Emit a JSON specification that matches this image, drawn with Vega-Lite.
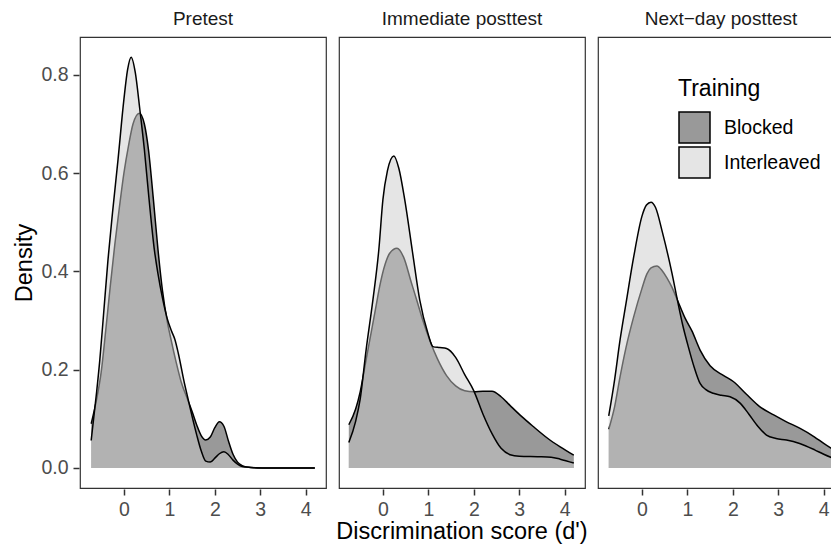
{
  "$schema": "https://vega.github.io/schema/vega-lite/v6.json",
  "padding": {"left": 12, "top": 10, "right": 0, "bottom": 0},
  "config": {
    "font": "Liberation Sans",
    "view": {"stroke": "#333333", "strokeWidth": 1.2},
    "axis": {"grid": false, "domain": false, "tickColor": "#333333", "tickWidth": 1.5, "tickSize": 6, "labelColor": "#4d4d4d", "labelFontSize": 19.5, "labelPadding": 5, "titleFontSize": 23.5, "titleFontWeight": "normal", "titleColor": "black"},
    "legend": {"titleFontSize": 23, "titleFontWeight": "normal", "titleColor": "black", "labelFontSize": 19.5, "labelColor": "black", "symbolType": "square", "symbolSize": 961, "labelOffset": 13, "rowPadding": -6, "titlePadding": 10}
  },
  "data": {"values": [
    {"test":"Pretest","training":"Blocked","score":-0.72,"density":0.090},
    {"test":"Pretest","training":"Blocked","score":-0.6,"density":0.140},
    {"test":"Pretest","training":"Blocked","score":-0.5,"density":0.195},
    {"test":"Pretest","training":"Blocked","score":-0.4,"density":0.280},
    {"test":"Pretest","training":"Blocked","score":-0.3,"density":0.370},
    {"test":"Pretest","training":"Blocked","score":-0.2,"density":0.455},
    {"test":"Pretest","training":"Blocked","score":-0.1,"density":0.530},
    {"test":"Pretest","training":"Blocked","score":0.0,"density":0.600},
    {"test":"Pretest","training":"Blocked","score":0.1,"density":0.655},
    {"test":"Pretest","training":"Blocked","score":0.2,"density":0.700},
    {"test":"Pretest","training":"Blocked","score":0.34,"density":0.722},
    {"test":"Pretest","training":"Blocked","score":0.45,"density":0.700},
    {"test":"Pretest","training":"Blocked","score":0.54,"density":0.648},
    {"test":"Pretest","training":"Blocked","score":0.65,"density":0.545},
    {"test":"Pretest","training":"Blocked","score":0.75,"density":0.444},
    {"test":"Pretest","training":"Blocked","score":0.85,"density":0.360},
    {"test":"Pretest","training":"Blocked","score":0.95,"density":0.300},
    {"test":"Pretest","training":"Blocked","score":1.04,"density":0.260},
    {"test":"Pretest","training":"Blocked","score":1.15,"density":0.215},
    {"test":"Pretest","training":"Blocked","score":1.26,"density":0.175},
    {"test":"Pretest","training":"Blocked","score":1.4,"density":0.140},
    {"test":"Pretest","training":"Blocked","score":1.5,"density":0.115},
    {"test":"Pretest","training":"Blocked","score":1.6,"density":0.088},
    {"test":"Pretest","training":"Blocked","score":1.7,"density":0.066},
    {"test":"Pretest","training":"Blocked","score":1.8,"density":0.057},
    {"test":"Pretest","training":"Blocked","score":1.9,"density":0.063},
    {"test":"Pretest","training":"Blocked","score":2.0,"density":0.082},
    {"test":"Pretest","training":"Blocked","score":2.1,"density":0.094},
    {"test":"Pretest","training":"Blocked","score":2.2,"density":0.085},
    {"test":"Pretest","training":"Blocked","score":2.3,"density":0.055},
    {"test":"Pretest","training":"Blocked","score":2.4,"density":0.028},
    {"test":"Pretest","training":"Blocked","score":2.5,"density":0.012},
    {"test":"Pretest","training":"Blocked","score":2.6,"density":0.005},
    {"test":"Pretest","training":"Blocked","score":2.7,"density":0.002},
    {"test":"Pretest","training":"Blocked","score":2.9,"density":0.0005},
    {"test":"Pretest","training":"Blocked","score":3.2,"density":0.0},
    {"test":"Pretest","training":"Blocked","score":3.7,"density":0.0},
    {"test":"Pretest","training":"Blocked","score":4.2,"density":0.0},
    {"test":"Pretest","training":"Interleaved","score":-0.72,"density":0.056},
    {"test":"Pretest","training":"Interleaved","score":-0.6,"density":0.155},
    {"test":"Pretest","training":"Interleaved","score":-0.53,"density":0.220},
    {"test":"Pretest","training":"Interleaved","score":-0.45,"density":0.310},
    {"test":"Pretest","training":"Interleaved","score":-0.35,"density":0.424},
    {"test":"Pretest","training":"Interleaved","score":-0.25,"density":0.520},
    {"test":"Pretest","training":"Interleaved","score":-0.13,"density":0.627},
    {"test":"Pretest","training":"Interleaved","score":0.0,"density":0.750},
    {"test":"Pretest","training":"Interleaved","score":0.08,"density":0.810},
    {"test":"Pretest","training":"Interleaved","score":0.16,"density":0.836},
    {"test":"Pretest","training":"Interleaved","score":0.25,"density":0.805},
    {"test":"Pretest","training":"Interleaved","score":0.35,"density":0.730},
    {"test":"Pretest","training":"Interleaved","score":0.45,"density":0.648},
    {"test":"Pretest","training":"Interleaved","score":0.55,"density":0.550},
    {"test":"Pretest","training":"Interleaved","score":0.67,"density":0.444},
    {"test":"Pretest","training":"Interleaved","score":0.75,"density":0.395},
    {"test":"Pretest","training":"Interleaved","score":0.85,"density":0.345},
    {"test":"Pretest","training":"Interleaved","score":0.95,"density":0.305},
    {"test":"Pretest","training":"Interleaved","score":1.05,"density":0.278},
    {"test":"Pretest","training":"Interleaved","score":1.12,"density":0.262},
    {"test":"Pretest","training":"Interleaved","score":1.2,"density":0.232},
    {"test":"Pretest","training":"Interleaved","score":1.33,"density":0.173},
    {"test":"Pretest","training":"Interleaved","score":1.4,"density":0.145},
    {"test":"Pretest","training":"Interleaved","score":1.5,"density":0.105},
    {"test":"Pretest","training":"Interleaved","score":1.6,"density":0.068},
    {"test":"Pretest","training":"Interleaved","score":1.7,"density":0.035},
    {"test":"Pretest","training":"Interleaved","score":1.8,"density":0.014},
    {"test":"Pretest","training":"Interleaved","score":1.9,"density":0.012},
    {"test":"Pretest","training":"Interleaved","score":2.0,"density":0.020},
    {"test":"Pretest","training":"Interleaved","score":2.1,"density":0.029},
    {"test":"Pretest","training":"Interleaved","score":2.2,"density":0.033},
    {"test":"Pretest","training":"Interleaved","score":2.3,"density":0.027},
    {"test":"Pretest","training":"Interleaved","score":2.4,"density":0.016},
    {"test":"Pretest","training":"Interleaved","score":2.5,"density":0.008},
    {"test":"Pretest","training":"Interleaved","score":2.6,"density":0.003},
    {"test":"Pretest","training":"Interleaved","score":2.8,"density":0.001},
    {"test":"Pretest","training":"Interleaved","score":3.0,"density":0.0},
    {"test":"Pretest","training":"Interleaved","score":3.6,"density":0.0},
    {"test":"Pretest","training":"Interleaved","score":4.2,"density":0.0},
    {"test":"Immediate posttest","training":"Blocked","score":-0.75,"density":0.088},
    {"test":"Immediate posttest","training":"Blocked","score":-0.6,"density":0.120},
    {"test":"Immediate posttest","training":"Blocked","score":-0.5,"density":0.155},
    {"test":"Immediate posttest","training":"Blocked","score":-0.37,"density":0.220},
    {"test":"Immediate posttest","training":"Blocked","score":-0.26,"density":0.275},
    {"test":"Immediate posttest","training":"Blocked","score":-0.15,"density":0.330},
    {"test":"Immediate posttest","training":"Blocked","score":-0.07,"density":0.370},
    {"test":"Immediate posttest","training":"Blocked","score":0.05,"density":0.415},
    {"test":"Immediate posttest","training":"Blocked","score":0.15,"density":0.437},
    {"test":"Immediate posttest","training":"Blocked","score":0.31,"density":0.447},
    {"test":"Immediate posttest","training":"Blocked","score":0.45,"density":0.430},
    {"test":"Immediate posttest","training":"Blocked","score":0.63,"density":0.376},
    {"test":"Immediate posttest","training":"Blocked","score":0.75,"density":0.340},
    {"test":"Immediate posttest","training":"Blocked","score":0.88,"density":0.300},
    {"test":"Immediate posttest","training":"Blocked","score":1.03,"density":0.260},
    {"test":"Immediate posttest","training":"Blocked","score":1.2,"density":0.222},
    {"test":"Immediate posttest","training":"Blocked","score":1.4,"density":0.188},
    {"test":"Immediate posttest","training":"Blocked","score":1.6,"density":0.167},
    {"test":"Immediate posttest","training":"Blocked","score":1.8,"density":0.157},
    {"test":"Immediate posttest","training":"Blocked","score":2.0,"density":0.155},
    {"test":"Immediate posttest","training":"Blocked","score":2.2,"density":0.156},
    {"test":"Immediate posttest","training":"Blocked","score":2.4,"density":0.156},
    {"test":"Immediate posttest","training":"Blocked","score":2.6,"density":0.145},
    {"test":"Immediate posttest","training":"Blocked","score":2.8,"density":0.127},
    {"test":"Immediate posttest","training":"Blocked","score":3.05,"density":0.105},
    {"test":"Immediate posttest","training":"Blocked","score":3.3,"density":0.085},
    {"test":"Immediate posttest","training":"Blocked","score":3.63,"density":0.060},
    {"test":"Immediate posttest","training":"Blocked","score":3.9,"density":0.043},
    {"test":"Immediate posttest","training":"Blocked","score":4.2,"density":0.026},
    {"test":"Immediate posttest","training":"Interleaved","score":-0.75,"density":0.052},
    {"test":"Immediate posttest","training":"Interleaved","score":-0.6,"density":0.095},
    {"test":"Immediate posttest","training":"Interleaved","score":-0.5,"density":0.140},
    {"test":"Immediate posttest","training":"Interleaved","score":-0.37,"density":0.240},
    {"test":"Immediate posttest","training":"Interleaved","score":-0.22,"density":0.342},
    {"test":"Immediate posttest","training":"Interleaved","score":-0.09,"density":0.444},
    {"test":"Immediate posttest","training":"Interleaved","score":0.0,"density":0.546},
    {"test":"Immediate posttest","training":"Interleaved","score":0.1,"density":0.605},
    {"test":"Immediate posttest","training":"Interleaved","score":0.24,"density":0.635},
    {"test":"Immediate posttest","training":"Interleaved","score":0.35,"density":0.610},
    {"test":"Immediate posttest","training":"Interleaved","score":0.48,"density":0.546},
    {"test":"Immediate posttest","training":"Interleaved","score":0.65,"density":0.440},
    {"test":"Immediate posttest","training":"Interleaved","score":0.81,"density":0.342},
    {"test":"Immediate posttest","training":"Interleaved","score":0.99,"density":0.274},
    {"test":"Immediate posttest","training":"Interleaved","score":1.1,"density":0.247},
    {"test":"Immediate posttest","training":"Interleaved","score":1.25,"density":0.245},
    {"test":"Immediate posttest","training":"Interleaved","score":1.4,"density":0.243},
    {"test":"Immediate posttest","training":"Interleaved","score":1.6,"density":0.225},
    {"test":"Immediate posttest","training":"Interleaved","score":1.8,"density":0.190},
    {"test":"Immediate posttest","training":"Interleaved","score":2.0,"density":0.157},
    {"test":"Immediate posttest","training":"Interleaved","score":2.2,"density":0.110},
    {"test":"Immediate posttest","training":"Interleaved","score":2.4,"density":0.070},
    {"test":"Immediate posttest","training":"Interleaved","score":2.6,"density":0.040},
    {"test":"Immediate posttest","training":"Interleaved","score":2.8,"density":0.027},
    {"test":"Immediate posttest","training":"Interleaved","score":3.0,"density":0.024},
    {"test":"Immediate posttest","training":"Interleaved","score":3.4,"density":0.023},
    {"test":"Immediate posttest","training":"Interleaved","score":3.7,"density":0.022},
    {"test":"Immediate posttest","training":"Interleaved","score":3.9,"density":0.018},
    {"test":"Immediate posttest","training":"Interleaved","score":4.2,"density":0.010},
    {"test":"Next−day posttest","training":"Blocked","score":-0.73,"density":0.079},
    {"test":"Next−day posttest","training":"Blocked","score":-0.6,"density":0.125},
    {"test":"Next−day posttest","training":"Blocked","score":-0.48,"density":0.186},
    {"test":"Next−day posttest","training":"Blocked","score":-0.35,"density":0.245},
    {"test":"Next−day posttest","training":"Blocked","score":-0.18,"density":0.308},
    {"test":"Next−day posttest","training":"Blocked","score":0.0,"density":0.365},
    {"test":"Next−day posttest","training":"Blocked","score":0.11,"density":0.395},
    {"test":"Next−day posttest","training":"Blocked","score":0.2,"density":0.407},
    {"test":"Next−day posttest","training":"Blocked","score":0.33,"density":0.411},
    {"test":"Next−day posttest","training":"Blocked","score":0.45,"density":0.401},
    {"test":"Next−day posttest","training":"Blocked","score":0.55,"density":0.387},
    {"test":"Next−day posttest","training":"Blocked","score":0.66,"density":0.368},
    {"test":"Next−day posttest","training":"Blocked","score":0.78,"density":0.342},
    {"test":"Next−day posttest","training":"Blocked","score":0.95,"density":0.305},
    {"test":"Next−day posttest","training":"Blocked","score":1.1,"density":0.279},
    {"test":"Next−day posttest","training":"Blocked","score":1.28,"density":0.240},
    {"test":"Next−day posttest","training":"Blocked","score":1.5,"density":0.208},
    {"test":"Next−day posttest","training":"Blocked","score":1.8,"density":0.188},
    {"test":"Next−day posttest","training":"Blocked","score":2.01,"density":0.176},
    {"test":"Next−day posttest","training":"Blocked","score":2.3,"density":0.150},
    {"test":"Next−day posttest","training":"Blocked","score":2.59,"density":0.125},
    {"test":"Next−day posttest","training":"Blocked","score":2.9,"density":0.108},
    {"test":"Next−day posttest","training":"Blocked","score":3.18,"density":0.094},
    {"test":"Next−day posttest","training":"Blocked","score":3.47,"density":0.081},
    {"test":"Next−day posttest","training":"Blocked","score":3.8,"density":0.063},
    {"test":"Next−day posttest","training":"Blocked","score":4.0,"density":0.050},
    {"test":"Next−day posttest","training":"Blocked","score":4.2,"density":0.038},
    {"test":"Next−day posttest","training":"Interleaved","score":-0.73,"density":0.106},
    {"test":"Next−day posttest","training":"Interleaved","score":-0.6,"density":0.180},
    {"test":"Next−day posttest","training":"Interleaved","score":-0.48,"density":0.261},
    {"test":"Next−day posttest","training":"Interleaved","score":-0.35,"density":0.335},
    {"test":"Next−day posttest","training":"Interleaved","score":-0.18,"density":0.430},
    {"test":"Next−day posttest","training":"Interleaved","score":0.0,"density":0.512},
    {"test":"Next−day posttest","training":"Interleaved","score":0.1,"density":0.535},
    {"test":"Next−day posttest","training":"Interleaved","score":0.2,"density":0.541},
    {"test":"Next−day posttest","training":"Interleaved","score":0.3,"density":0.530},
    {"test":"Next−day posttest","training":"Interleaved","score":0.45,"density":0.480},
    {"test":"Next−day posttest","training":"Interleaved","score":0.66,"density":0.397},
    {"test":"Next−day posttest","training":"Interleaved","score":0.78,"density":0.342},
    {"test":"Next−day posttest","training":"Interleaved","score":0.9,"density":0.290},
    {"test":"Next−day posttest","training":"Interleaved","score":1.02,"density":0.247},
    {"test":"Next−day posttest","training":"Interleaved","score":1.15,"density":0.205},
    {"test":"Next−day posttest","training":"Interleaved","score":1.28,"density":0.172},
    {"test":"Next−day posttest","training":"Interleaved","score":1.4,"density":0.160},
    {"test":"Next−day posttest","training":"Interleaved","score":1.57,"density":0.152},
    {"test":"Next−day posttest","training":"Interleaved","score":1.75,"density":0.148},
    {"test":"Next−day posttest","training":"Interleaved","score":1.94,"density":0.145},
    {"test":"Next−day posttest","training":"Interleaved","score":2.16,"density":0.132},
    {"test":"Next−day posttest","training":"Interleaved","score":2.35,"density":0.110},
    {"test":"Next−day posttest","training":"Interleaved","score":2.55,"density":0.085},
    {"test":"Next−day posttest","training":"Interleaved","score":2.74,"density":0.067},
    {"test":"Next−day posttest","training":"Interleaved","score":2.95,"density":0.060},
    {"test":"Next−day posttest","training":"Interleaved","score":3.18,"density":0.057},
    {"test":"Next−day posttest","training":"Interleaved","score":3.47,"density":0.050},
    {"test":"Next−day posttest","training":"Interleaved","score":3.8,"density":0.037},
    {"test":"Next−day posttest","training":"Interleaved","score":4.0,"density":0.028},
    {"test":"Next−day posttest","training":"Interleaved","score":4.2,"density":0.020}
  ]},
  "facet": {"column": {"field": "test", "type": "nominal", "sort": ["Pretest", "Immediate posttest", "Next−day posttest"], "title": "Discrimination score (d')",
    "header": {"labelOrient": "top", "titleOrient": "bottom", "titleFontSize": 23.5, "titleFontWeight": "normal", "titleColor": "black", "titlePadding": -9, "labelFontSize": 19, "labelColor": "#1a1a1a", "labelPadding": 7}}},
  "spacing": 11,
  "spec": {
    "width": 246,
    "height": 451,
    "encoding": {
      "x": {"field": "score", "type": "quantitative", "scale": {"domain": [-0.966, 4.446], "nice": false, "zero": false}, "axis": {"values": [0, 1, 2, 3, 4], "format": "d", "labelPadding": 5}, "title": null},
      "y": {"field": "density", "type": "quantitative", "scale": {"domain": [-0.0407, 0.877], "nice": false}, "axis": {"values": [0, 0.2, 0.4, 0.6, 0.8], "format": ".1f"}, "title": "Density"}
    },
    "layer": [
      {"transform": [{"filter": "datum.training === 'Blocked'"}],
       "mark": {"type": "area", "interpolate": "monotone", "fillOpacity": 0.5},
       "encoding": {"fill": {"field": "training", "type": "nominal", "scale": {"domain": ["Blocked", "Interleaved"], "range": ["#333333", "#cccccc"]},
         "legend": {"title": "Training", "orient": "none", "legendX": 598, "legendY": 41,
           "encode": {"symbols": {"update": {"fillOpacity": {"value": 0.5}, "stroke": {"value": "black"}, "strokeWidth": {"value": 1.5}, "strokeOpacity": {"value": 1}}}}}}}},
      {"transform": [{"filter": "datum.training === 'Blocked'"}],
       "mark": {"type": "line", "interpolate": "monotone", "color": "black", "strokeWidth": 1.5},
       "encoding": {}},
      {"transform": [{"filter": "datum.training === 'Interleaved'"}],
       "mark": {"type": "area", "interpolate": "monotone", "fillOpacity": 0.5},
       "encoding": {"fill": {"field": "training", "type": "nominal"}}},
      {"transform": [{"filter": "datum.training === 'Interleaved'"}],
       "mark": {"type": "line", "interpolate": "monotone", "color": "black", "strokeWidth": 1.5},
       "encoding": {}}
    ]
  }
}
